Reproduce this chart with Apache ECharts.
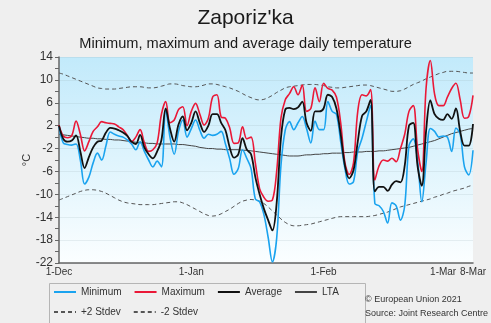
<!DOCTYPE html>
<html>
<head>
<meta charset="utf-8">
<script src="https://cdn.jsdelivr.net/npm/echarts@6/dist/echarts.min.js"></script>
<style>
  html, body { margin: 0; padding: 0; background: #efefef; }
  #chart { width: 491px; height: 323px; }
</style>
</head>
<body>
<div id="chart"></div>
<script>
// Daily temperatures, 1 Dec 2020 – 8 Mar 2021 (98 days), °C
const monthNames = ['Dec', 'Jan', 'Feb', 'Mar'];
const monthDays = [31, 31, 28, 8];
const tickLabels = ['1-Dec', '1-Jan', '1-Feb', '1-Mar', '8-Mar'];
const yTicks = [-22, -18, -14, -10, -6, -2, 2, 6, 10, 14];

const minimum = [
  1.8, -1.0, -1.3, -1.4, -1.2, -4.0, -8.2, -7.0, -4.5, -2.8,
  -4.0, -1.5, 0.9, 0.5, 0.2, 0.0, -0.5, -1.2, -2.2, -0.8,
  -2.5, -4.0, -5.2, -4.2, -5.2, 4.8, 0.0, -3.0, 1.0, 3.0,
  0.0, 1.5, 3.0, 1.2, -0.2, 0.5, 0.3, 0.5, 1.0, -1.2,
  -3.8, -6.5, -5.5, -2.2, -3.7, -5.5, -10.8, -11.3, -13.5, -17.5,
  -21.8, -17.7, -5.0, 1.2, 2.7, 1.3, 2.5, 3.6, 1.5, -1.0,
  2.8, 1.3, 1.3, 6.2, 4.5, 4.0, -0.8, -5.5, -8.2, -7.8,
  -2.5, -0.2, 2.7, 5.5, -11.6, -12.0, -13.0, -15.0, -11.5, -12.0,
  -14.5, -12.0, -1.5, -0.3, -4.0, -11.3, -4.5, 1.5, 1.0, 0.0,
  0.2, 0.0, -2.5, 1.6, 0.5, -5.2, -6.6, -2.3
];
const maximum = [
  2.1, 0.2, -0.1, 0.3, 2.8, 0.5, -2.4, -0.8, 1.0, 1.8,
  2.7, 2.5, 2.4, 2.3, 1.8, 1.3, 0.3, -0.8, 0.0, 1.3,
  -1.0, -2.5, -2.2, -1.0, 4.0, 6.2, 2.5, 3.0, 4.8, 5.3,
  2.0, 4.5, 5.9, 4.0, 2.1, 3.3, 7.0, 7.4, 3.5, 3.3,
  1.6, -1.1, -1.0, 1.8, -0.3, 0.0, -4.5, -9.0, -10.5, -11.2,
  -11.0, -6.0, 3.3, 6.5, 7.6, 8.8, 7.4, 9.1, 4.5, 5.0,
  8.6, 6.2, 9.4, 8.5, 8.2, 7.0, 2.5, -4.5, -6.5, -4.5,
  4.5, 7.4, 7.2, 8.3, -7.5, -5.0, -4.0, -4.2, -3.7, -4.3,
  -2.0, 0.5, 4.5, 5.5, -2.0, -6.0, 8.5, 13.4, 7.5, 5.5,
  5.5, 7.0, 8.5, 9.4, 6.5, 3.3, 3.6, 7.3
];
const average = [
  2.0, -0.3, -0.8, -0.6, 0.3, -2.5, -5.4, -3.5, -1.8, -0.8,
  -0.6, 0.8, 1.6, 1.5, 1.2, 0.8, 0.2, -0.8, -1.2, 0.4,
  -1.8, -3.0, -3.7, -2.5, -0.5, 5.0, 1.5, -0.8, 2.2, 3.6,
  1.2, 2.5, 4.5, 2.5, 0.9, 2.0, 4.0, 4.0, 2.5, 1.2,
  -1.8, -3.6, -3.0, -0.2, -2.2, -3.0, -7.0, -10.0, -12.5, -14.5,
  -16.3, -11.5, -0.2, 4.8, 5.1, 4.9, 5.2, 6.2, 2.5, 1.1,
  4.5, 4.5, 5.0, 7.4, 7.0, 5.0, 0.5, -5.0, -7.2, -5.8,
  -0.8, 3.7, 4.5, 6.5, -9.5, -8.7, -8.7, -9.4, -8.3, -7.7,
  -7.9, -5.0, 2.0, 2.5, -5.0, -8.5, 1.0, 6.4, 4.0, 3.2,
  3.0, 4.0, 3.2, 5.0, 1.0, -1.5, -1.5, 2.3
];
const lta = [
  0.5, 0.4, 0.3, 0.2, 0.1, 0.0, -0.1, -0.2, -0.2, -0.3,
  -0.3, -0.4, -0.4, -0.5, -0.5, -0.6, -0.7, -0.8, -0.9, -1.0,
  -1.0, -1.1, -1.1, -1.2, -1.2, -1.2, -1.2, -1.2, -1.3, -1.3,
  -1.4, -1.5, -1.6, -1.8, -1.9, -2.0, -2.0, -2.1, -2.1, -2.2,
  -2.2, -2.2, -2.2, -2.3, -2.3, -2.4, -2.5, -2.6, -2.7, -2.8,
  -2.9, -3.0, -3.1, -3.2, -3.3, -3.3, -3.3, -3.2, -3.1, -3.1,
  -3.0, -3.0, -2.9, -2.9, -2.8, -2.8, -2.8, -2.7, -2.7, -2.6,
  -2.6, -2.6, -2.5, -2.5, -2.5, -2.4, -2.4, -2.3, -2.2, -2.1,
  -2.0, -1.9, -1.8, -1.6, -1.4, -1.2, -1.0, -0.8, -0.6, -0.3,
  0.0, 0.3, 0.6, 0.8, 1.0, 1.2, 1.4, 1.5
];
const plus2Stdev = [
  11.2, 11.0, 10.7, 10.4, 10.1, 9.8, 9.5, 9.2, 8.9, 8.6,
  8.5, 8.4, 8.4, 8.4, 8.5, 8.6, 8.7, 8.8, 8.8, 8.8,
  8.7, 8.6, 8.6, 8.7, 8.9, 9.1, 9.3, 9.3, 9.2, 9.0,
  8.9, 8.8, 8.8, 8.9, 9.1, 9.3, 9.3, 9.2, 9.0, 8.8,
  8.6, 8.3, 8.0, 7.6, 7.2, 6.9, 6.6, 6.5, 6.6, 6.9,
  7.3, 7.8, 8.2, 8.6, 8.8, 8.9, 9.0, 9.1, 9.2, 9.2,
  9.2, 9.1, 9.0, 8.8, 8.7, 8.6, 8.6, 8.7, 8.8, 8.9,
  9.0, 9.1, 9.1, 9.0, 8.8, 8.6, 8.4, 8.2, 8.0, 8.0,
  8.1, 8.4, 8.8, 9.2, 9.5, 9.8, 10.2, 10.5, 10.8, 11.1,
  11.3, 11.5, 11.5, 11.5, 11.4, 11.3, 11.2, 11.2
];
const minus2Stdev = [
  -11.0, -10.7, -10.4, -10.1, -9.8, -9.5, -9.3, -9.2, -9.2, -9.3,
  -9.5, -9.8, -10.2, -10.6, -11.0, -11.3, -11.5, -11.6, -11.7, -11.8,
  -11.8, -11.8, -11.8, -11.7, -11.6, -11.5, -11.4, -11.3, -11.3, -11.5,
  -11.8, -12.2, -12.6, -13.0, -13.4, -13.7, -13.8, -13.7, -13.4, -13.0,
  -12.6, -12.1, -11.6, -11.2, -11.0, -10.9, -11.0, -11.2, -11.6, -12.2,
  -12.9, -13.6, -14.3, -14.9, -15.3, -15.5, -15.5, -15.4, -15.3, -15.2,
  -15.0, -14.8, -14.6, -14.4, -14.2, -14.0, -13.9, -13.9, -13.9, -13.9,
  -13.9, -13.9, -13.9, -13.8, -13.7, -13.5, -13.3, -13.1, -12.8, -12.5,
  -12.2, -12.0, -11.8, -11.6, -11.4, -11.2, -11.0, -10.8, -10.5, -10.3,
  -10.0, -9.8, -9.5, -9.3, -9.1, -8.9, -8.6, -8.4
];

// Day labels "d-Mon" for every category
const days = [];
monthNames.forEach((m, i) => {
  for (let d = 1; d <= monthDays[i]; d++) days.push(d + '-' + m);
});

const FONT = 'Liberation Sans, Arial, sans-serif';
const chart = echarts.init(document.getElementById('chart'), null, { renderer: 'canvas' });

function lineSeries(name, data, color, width, dashed) {
  return {
    name, type: 'line', data,
    symbol: 'none', smooth: 0.35,
    lineStyle: { color, width, type: dashed ? [4, 3] : 'solid' },
    itemStyle: { color },
    emphasis: { disabled: true },
    animation: false
  };
}

// Legend keys show only the line stroke, no marker
const legendBase = {
  padding: 0,
  itemWidth: 22, itemHeight: 10, itemGap: 12,
  itemStyle: { opacity: 0 },
  textStyle: { fontSize: 10, color: '#333' }
};

chart.setOption({
  backgroundColor: '#efefef',
  animation: false,
  textStyle: { fontFamily: FONT },
  title: [
    { text: "Zaporiz'ka", left: 'center', top: 3,
      textStyle: { fontSize: 21, fontWeight: 'normal', color: '#1a1a1a', fontFamily: FONT } },
    { text: 'Minimum, maximum and average daily temperature', left: 'center', top: 31,
      textStyle: { fontSize: 14.6, fontWeight: 'normal', color: '#1a1a1a', fontFamily: FONT } }
  ],
  grid: {
    left: 59, top: 57, width: 414, height: 206,
    show: true, borderWidth: 0,
    backgroundColor: new echarts.graphic.LinearGradient(0, 0, 0, 1, [
      { offset: 0, color: '#c2eafb' },
      { offset: 1, color: '#fbfeff' }
    ])
  },
  xAxis: {
    type: 'category', data: days, boundaryGap: false,
    axisLine: { onZero: false, lineStyle: { color: '#666', width: 1.5 } },
    axisTick: { show: false },
    axisLabel: {
      fontSize: 10, color: '#333', margin: 4,
      interval: (idx, val) => tickLabels.includes(val),
      showMaxLabel: true
    },
    splitLine: { show: false }
  },
  yAxis: {
    type: 'value', min: -22, max: 14, interval: 4,
    name: '°C', nameLocation: 'middle', nameGap: 27, nameRotate: 90,
    nameMoveOverlap: false,
    nameTextStyle: { fontSize: 11, color: '#333' },
    axisLine: { show: true, lineStyle: { color: '#666', width: 1.5 } },
    axisTick: { show: true, length: 4, lineStyle: { color: '#666' } },
    minorTick: { show: true, splitNumber: 2, length: 4, lineStyle: { color: '#666' } },
    axisLabel: { fontSize: 12, color: '#333', margin: 6 },
    splitLine: { show: true, lineStyle: { color: 'rgba(150,170,180,0.18)', width: 1 } }
  },
  legend: [
    Object.assign({ left: 53, top: 287, data: ['Minimum', 'Maximum', 'Average', 'LTA'] }, legendBase),
    Object.assign({ left: 53, top: 307, data: ['+2 Stdev', '-2 Stdev'] }, legendBase)
  ],
  graphic: [
    { type: 'rect', left: 47, top: 281, shape: { width: 316, height: 40 },
      style: { fill: 'none', stroke: '#b5b5b5', lineWidth: 1 }, silent: true },
    { type: 'text', left: 365, top: 295,
      style: { text: '© European Union 2021', fill: '#333', font: '9px ' + FONT } },
    { type: 'text', left: 365, top: 309,
      style: { text: 'Source: Joint Research Centre', fill: '#333', font: '9px ' + FONT } }
  ],
  series: [
    lineSeries('+2 Stdev', plus2Stdev, '#555', 1, true),
    lineSeries('-2 Stdev', minus2Stdev, '#555', 1, true),
    lineSeries('LTA', lta, '#444', 1, false),
    lineSeries('Minimum', minimum, '#1aa3ef', 1.6, false),
    lineSeries('Maximum', maximum, '#ea1837', 1.6, false),
    lineSeries('Average', average, '#111', 1.8, false)
  ]
});
</script>
</body>
</html>
